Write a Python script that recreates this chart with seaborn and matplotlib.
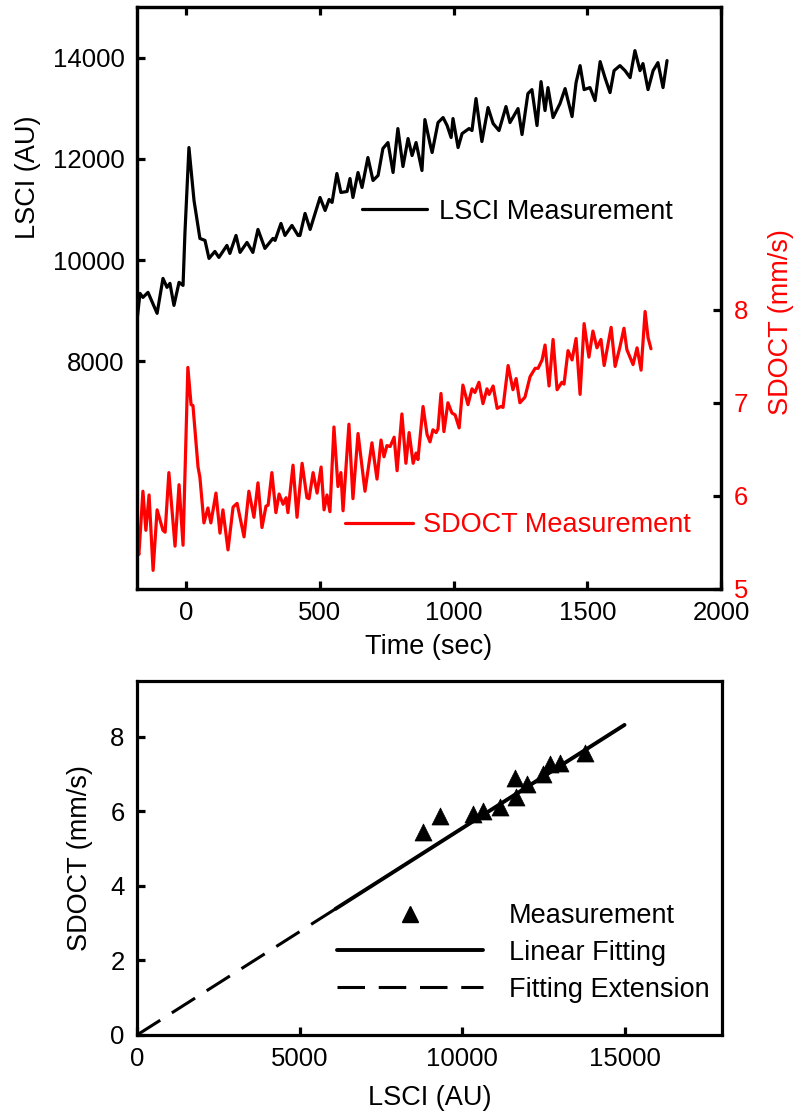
import numpy as np
import pandas as pd
import matplotlib
matplotlib.use("Agg")
import matplotlib.pyplot as plt
from matplotlib.lines import Line2D
import seaborn as sns

# ---------------- data ----------------
lsci_time = [-183, -172, -161, -142, -108, -86, -71, -60, -45, -26, -11, -4, 11, 30, 52, 71, 86, 108,
             123, 153, 164, 187, 202, 228, 250, 269, 295, 325, 333, 355, 370, 396, 419, 426, 445, 464,
             501, 520, 535, 546, 564, 579, 602, 613, 624, 643, 658, 680, 699, 718, 736, 755, 774, 792,
             811, 830, 845, 860, 882, 893, 912, 920, 942, 961, 976, 991, 998, 1017, 1032, 1058, 1069,
             1084, 1106, 1129, 1148, 1170, 1196, 1211, 1241, 1256, 1278, 1293, 1312, 1327, 1342, 1353,
             1372, 1398, 1417, 1428, 1443, 1458, 1473, 1488, 1510, 1529, 1548, 1566, 1585, 1600, 1622,
             1641, 1660, 1678, 1697, 1708, 1727, 1746, 1764, 1783, 1798]
lsci_value = [8808, 9341, 9262, 9361, 8947, 9637, 9460, 9539, 9104, 9559, 9499, 10526, 12223, 11177,
              10427, 10388, 10032, 10170, 10052, 10289, 10131, 10486, 10151, 10348, 10151, 10605, 10230,
              10427, 10388, 10723, 10486, 10684, 10486, 10486, 10921, 10605, 11236, 10980, 11197, 11138,
              11710, 11335, 11355, 11611, 11236, 11730, 11434, 12026, 11572, 11671, 12204, 12322, 11730,
              12598, 11848, 12401, 12065, 12322, 11769, 12776, 12302, 12125, 12717, 12816, 12658, 12421,
              12796, 12223, 12500, 12598, 12559, 13191, 12342, 13013, 12697, 12559, 13033, 12717, 12993,
              12480, 13289, 13368, 12658, 13526, 12954, 13408, 12816, 13092, 13388, 13151, 12835, 13507,
              13842, 13368, 13408, 13151, 13921, 13605, 13309, 13743, 13842, 13743, 13605, 14138, 13743,
              13882, 13368, 13743, 13901, 13408, 13941]

sdoct_time = [-183, -176, -161, -150, -138, -123, -108, -86, -78, -64, -41, -26, -11, 7, 19, 26, 45, 52,
              67, 82, 93, 112, 127, 138, 157, 176, 191, 217, 235, 254, 269, 284, 299, 307, 321, 336, 348,
              363, 374, 381, 400, 415, 434, 452, 460, 475, 490, 505, 516, 527, 538, 553, 568, 579, 587,
              609, 624, 643, 669, 695, 714, 729, 740, 751, 763, 778, 789, 807, 822, 834, 849, 860, 867,
              886, 901, 912, 923, 935, 942, 953, 964, 979, 994, 1006, 1021, 1035, 1054, 1069, 1080, 1095,
              1110, 1125, 1133, 1148, 1163, 1177, 1185, 1204, 1222, 1234, 1248, 1267, 1286, 1305, 1316,
              1331, 1342, 1357, 1372, 1387, 1405, 1413, 1428, 1443, 1458, 1473, 1488, 1506, 1521, 1536,
              1551, 1563, 1589, 1604, 1622, 1637, 1648, 1671, 1686, 1701, 1716, 1727, 1738]
sdoct_value = [5.44, 5.37, 6.05, 5.63, 6.01, 5.20, 5.85, 5.63, 5.61, 6.25, 5.46, 6.12, 5.47, 7.38, 6.98,
               6.97, 6.31, 6.20, 5.71, 5.87, 5.71, 6.03, 5.60, 5.85, 5.42, 5.88, 5.92, 5.56, 6.05, 5.77,
               6.14, 5.66, 5.89, 5.90, 6.25, 5.82, 6.02, 5.91, 5.98, 5.82, 6.33, 5.77, 6.35, 5.98, 5.97,
               6.25, 6.03, 6.31, 5.85, 6.01, 5.83, 6.74, 6.10, 6.25, 5.84, 6.77, 5.97, 6.67, 6.05, 6.57,
               6.18, 6.60, 6.42, 6.54, 6.53, 6.63, 6.27, 6.88, 6.35, 6.68, 6.35, 6.46, 6.39, 6.96, 6.66,
               6.58, 6.71, 6.68, 6.72, 7.10, 6.69, 7.00, 6.89, 6.87, 6.73, 7.19, 6.98, 7.15, 7.11, 7.22,
               6.99, 7.15, 7.09, 7.18, 6.94, 6.96, 6.95, 7.40, 7.14, 7.26, 7.00, 7.06, 7.28, 7.37, 7.37,
               7.46, 7.62, 7.18, 7.68, 7.14, 7.22, 7.20, 7.56, 7.46, 7.69, 7.09, 7.85, 7.49, 7.77, 7.59,
               7.68, 7.40, 7.81, 7.39, 7.60, 7.80, 7.57, 7.41, 7.59, 7.35, 7.98, 7.70, 7.58]

meas_lsci = [8810, 9323, 10348, 10656, 11170, 11631, 11662, 11991, 12502, 12708, 13016, 13785]
meas_sdoct = [5.45, 5.88, 5.94, 6.02, 6.12, 6.90, 6.39, 6.74, 7.01, 7.27, 7.30, 7.57]

fit_lsci = [6100, 15000]
fit_sdoct = [3.38, 8.32]
ext_lsci = [0, 6100]
ext_sdoct = [0.0, 3.38]

top_xticks = [0, 500, 1000, 1500, 2000]
lsci_ticks = [8000, 10000, 12000, 14000]
sdoct_ticks = [5, 6, 7, 8]
bot_xticks = [0, 5000, 10000, 15000]
bot_yticks = [0, 2, 4, 6, 8]

# ---------------- style ----------------
sns.set_style("ticks")
plt.rcParams['font.family'] = ['Liberation Sans', 'DejaVu Sans']
plt.rcParams['text.color'] = 'black'
plt.rcParams['axes.labelcolor'] = 'black'
plt.rcParams['xtick.color'] = 'black'
plt.rcParams['ytick.color'] = 'black'
TICK_FS = 18.5
LAB_FS = 19.5
SPINE_LW = 2.3
LINE_LW = 2.3
RED = '#ff0000'

fig = plt.figure(figsize=(7.93, 11.13), dpi=100)
ax1 = fig.add_axes([0.1728, 0.4708, 0.7365, 0.5229])
ax2 = ax1.twinx()
ax3 = fig.add_axes([0.1728, 0.0701, 0.7377, 0.3181])

df_l = pd.DataFrame({'t': lsci_time, 'v': lsci_value})
df_s = pd.DataFrame({'t': sdoct_time, 'v': sdoct_value})

sns.lineplot(data=df_l, x='t', y='v', ax=ax1, color='black', lw=LINE_LW, sort=False,
             estimator=None, legend=False)
sns.lineplot(data=df_s, x='t', y='v', ax=ax2, color=RED, lw=LINE_LW, sort=False,
             estimator=None, legend=False)

ax1.set_xlim(-183, 2000)
ax1.set_ylim(3500, 15000)
ax2.set_ylim(5, 11.25)
ax1.set_xticks(top_xticks)
ax1.set_yticks(lsci_ticks)
ax2.set_yticks(sdoct_ticks)
ax1.set_xlabel('Time (sec)', fontsize=LAB_FS, labelpad=6)
ax1.set_ylabel('LSCI (AU)', fontsize=LAB_FS)
ax1.yaxis.set_label_coords(-0.164, 0.708)
ax2.set_ylabel('SDOCT (mm/s)', fontsize=LAB_FS, color=RED)
ax2.yaxis.set_label_coords(1.080, 0.459)

for a in (ax1, ax2, ax3):
    for s in a.spines.values():
        s.set_linewidth(SPINE_LW)
        s.set_color('black')

ax1.tick_params(axis='x', direction='in', length=6, width=SPINE_LW, labelsize=TICK_FS, pad=9,
                top=True, bottom=True, colors='black')
ax1.tick_params(axis='y', direction='in', length=6, width=SPINE_LW, labelsize=TICK_FS, pad=9,
                left=True, right=False, colors='black')
ax2.tick_params(axis='y', direction='in', length=6, width=SPINE_LW, labelsize=TICK_FS, pad=9,
                labelcolor=RED, color='black', right=True, left=False)

ax1.legend(handles=[Line2D([], [], color='black', lw=LINE_LW)], labels=['LSCI Measurement'],
           loc='center left', bbox_to_anchor=(0.385, 0.648), frameon=False,
           fontsize=LAB_FS, handlelength=2.4, handletextpad=0.45, borderpad=0,
           borderaxespad=0)
ax2.legend(handles=[Line2D([], [], color=RED, lw=LINE_LW)], labels=['SDOCT Measurement'],
           loc='center left', bbox_to_anchor=(0.356, 0.110), frameon=False,
           fontsize=LAB_FS, handlelength=2.5, handletextpad=0.4, borderpad=0,
           borderaxespad=0, labelcolor=RED)

# ---------------- bottom panel ----------------
df_m = pd.DataFrame({'lsci': meas_lsci, 'sdoct': meas_sdoct})
sns.lineplot(x=fit_lsci, y=fit_sdoct, ax=ax3, color='black', lw=2.8, sort=False, estimator=None)
sns.lineplot(x=ext_lsci, y=ext_sdoct, ax=ax3, color='black', lw=2.2, sort=False, estimator=None,
             linestyle=(0, (9, 4.5)))
sns.scatterplot(data=df_m, x='lsci', y='sdoct', ax=ax3, marker='^', s=150, color='black',
                edgecolor='black', linewidth=0.5, zorder=5)

ax3.set_xlim(0, 18000)
ax3.set_ylim(0, 9.5)
ax3.set_xticks(bot_xticks)
ax3.set_yticks(bot_yticks)
ax3.set_xlabel('LSCI (AU)', fontsize=LAB_FS, labelpad=10)
ax3.set_ylabel('SDOCT (mm/s)', fontsize=LAB_FS, labelpad=12)
ax3.tick_params(axis='both', direction='in', length=6, width=SPINE_LW, labelsize=TICK_FS, pad=9,
                colors='black')

h_m = Line2D([], [], color='black', marker='^', linestyle='none', markersize=11)
h_f = Line2D([], [], color='black', lw=2.8)
h_e = Line2D([], [], color='black', lw=2.2, linestyle=(0, (9, 4.5)))
ax3.legend(handles=[h_m, h_f, h_e], labels=['Measurement', 'Linear Fitting', 'Fitting Extension'],
           loc='center left', bbox_to_anchor=(0.342, 0.232), frameon=False, fontsize=LAB_FS,
           handlelength=5.4, handletextpad=0.95, labelspacing=0.4, borderpad=0, borderaxespad=0)

fig.savefig('out.png', dpi=100)
